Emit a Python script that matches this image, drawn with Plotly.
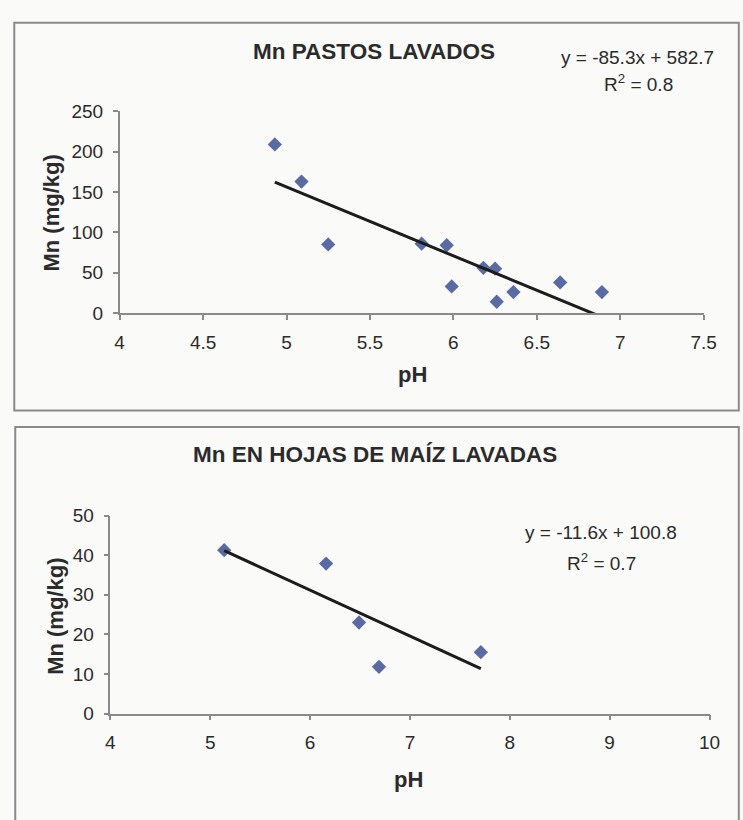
import plotly.graph_objects as go

# ---- data: Mn in washed pasture ----
ph_pastos = [4.93, 5.09, 5.25, 5.81, 5.96, 5.99, 6.18, 6.25, 6.26, 6.36, 6.64, 6.89]
mn_pastos = [209, 163, 85, 86, 84, 33, 56, 55, 14, 26, 38, 26]
slope_pastos, intercept_pastos, r2_pastos = -85.3, 582.7, 0.8

# ---- data: Mn in washed maize leaves ----
ph_maiz = [5.14, 6.16, 6.49, 6.69, 7.71]
mn_maiz = [41.3, 37.9, 23.0, 11.8, 15.5]
slope_maiz, intercept_maiz, r2_maiz = -11.6, 100.8, 0.7

W, H = 743, 820
BG = "#fafaf8"
FRAME = "#8a8a8a"
AXIS = "#8a8a8a"
TEXT = "#2b2b2b"
MARKER = "#5a6ba3"
FONT = "Liberation Sans, Arial, sans-serif"


def px(x):
    return x / W


def py(y):
    return 1 - y / H


def trend(xs, m, b):
    x0, x1 = min(xs), max(xs)
    return [x0, x1], [m * x0 + b, m * x1 + b]


fig = go.Figure()

# top panel
fig.add_trace(go.Scatter(
    x=ph_pastos, y=mn_pastos, mode="markers",
    marker=dict(symbol="diamond", size=11, color=MARKER),
    xaxis="x", yaxis="y", showlegend=False, cliponaxis=False))
tx, ty = trend(ph_pastos, slope_pastos, intercept_pastos)
fig.add_trace(go.Scatter(
    x=tx, y=ty, mode="lines", line=dict(color="#1c1c1c", width=3),
    xaxis="x", yaxis="y", showlegend=False))

# bottom panel
fig.add_trace(go.Scatter(
    x=ph_maiz, y=mn_maiz, mode="markers",
    marker=dict(symbol="diamond", size=11, color=MARKER),
    xaxis="x2", yaxis="y2", showlegend=False, cliponaxis=False))
tx2, ty2 = trend(ph_maiz, slope_maiz, intercept_maiz)
fig.add_trace(go.Scatter(
    x=tx2, y=ty2, mode="lines", line=dict(color="#1c1c1c", width=3),
    xaxis="x2", yaxis="y2", showlegend=False))

axis_common = dict(
    showline=True, linecolor=AXIS, linewidth=1.5,
    ticks="outside", ticklen=5, tickwidth=1.5, tickcolor=AXIS,
    showgrid=False, zeroline=False,
    tickfont=dict(family=FONT, size=19, color=TEXT),
    fixedrange=True,
)

fig.update_layout(
    width=W, height=H,
    margin=dict(l=0, r=0, t=0, b=0),
    paper_bgcolor=BG, plot_bgcolor=BG,
    font=dict(family=FONT, color=TEXT),
    xaxis=dict(axis_common, domain=[px(117.5), px(716)], range=[4, 7.5],
               dtick=0.5, anchor="y", ticklabelstandoff=6),
    yaxis=dict(axis_common, domain=[py(311), py(104)], range=[0, 250],
               dtick=50, anchor="x", ticklabelstandoff=6),
    xaxis2=dict(axis_common, domain=[px(108), px(722)], range=[4, 10],
                dtick=1, anchor="y2", ticklabelstandoff=6),
    yaxis2=dict(axis_common, domain=[py(722), py(519)], range=[0, 50],
                dtick=10, anchor="x2", ticklabelstandoff=6),
)

# panel frames
frame = dict(type="rect", xref="paper", yref="paper",
             line=dict(color=FRAME, width=2), fillcolor="rgba(0,0,0,0)",
             layer="below")
fig.add_shape(frame, x0=px(9.5), x1=px(752), y0=py(411), y1=py(13))
fig.add_shape(frame, x0=px(10.5), x1=px(752), y0=py(835), y1=py(428))


def label(text, x, y, size, bold=False, angle=0):
    fig.add_annotation(
        text=f"<b>{text}</b>" if bold else text,
        x=px(x), y=py(y), xref="paper", yref="paper",
        xanchor="center", yanchor="middle", showarrow=False,
        textangle=angle,
        font=dict(family=FONT, size=size, color=TEXT))


# top panel texts
label("Mn PASTOS LAVADOS", 378, 43, 22.5, bold=True)
label(f"y = {slope_pastos}x + {intercept_pastos}", 648, 49, 19)
label(f"R<sup>2</sup> = {r2_pastos}", 649, 75, 19)
label("Mn (mg/kg)", 48, 208, 22, bold=True, angle=-90)
label("pH", 418, 374, 22, bold=True)

# bottom panel texts
label("Mn EN HOJAS DE MAÍZ LAVADAS", 379, 456, 22.5, bold=True)
label(f"y = {slope_maiz}x + {intercept_maiz}", 611, 536, 19)
label(f"R<sup>2</sup> = {r2_maiz}", 611, 567, 19)
label("Mn (mg/kg)", 51, 622, 22, bold=True, angle=-90)
label("pH", 414, 790, 22, bold=True)

fig.write_html("out.html")
